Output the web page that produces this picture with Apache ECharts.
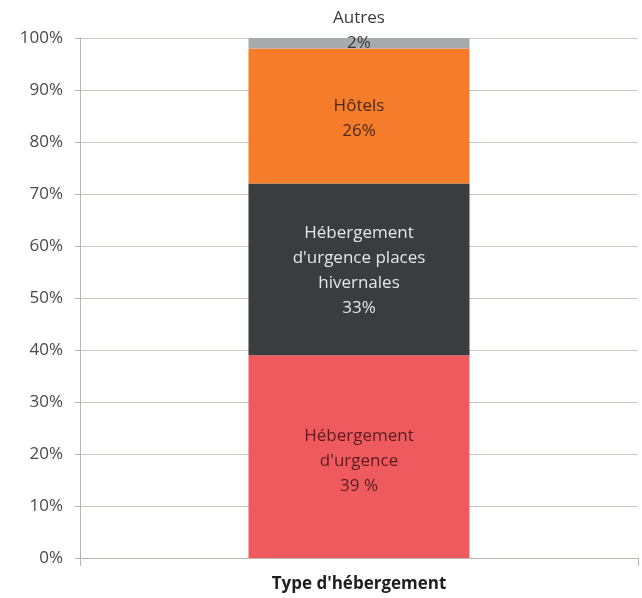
<!DOCTYPE html>
<html>
<head>
<meta charset="utf-8">
<script src="https://cdn.jsdelivr.net/npm/echarts@6/dist/echarts.min.js"></script>
<style>
  html, body { margin: 0; padding: 0; background: #ffffff; }
  #chart { width: 642px; height: 598px; }
</style>
</head>
<body>
<div id="chart"></div>
<script>
// Répartition par type d'hébergement (en %)
const categories = ["Type d'hébergement"];
const segmentNames = ["Hébergement\nd'urgence", "Hébergement\nd'urgence places\nhivernales", "Hôtels", "Autres"];
const segmentValues = [39, 33, 26, 2];
const valueTexts = ["39 %", "33%", "26%", "2%"];
const yTicks = [0, 10, 20, 30, 40, 50, 60, 70, 80, 90, 100];

const colors = ['#EF5A5F', '#3A3C3F', '#F47C2B', '#A7ABAE'];
const labelColors = ['#5A1C20', '#E6E6E6', '#4A2A12', '#3A3A3A'];
// small vertical nudges of the in-bar labels
const labelOffsets = [[0, 5], [0, 1], [0, 3], [0, -13]];
const FONT = '"Open Sans", "Liberation Sans", sans-serif';

const chart = echarts.init(document.getElementById('chart'), null, { renderer: 'canvas' });

const series = segmentValues.map((v, i) => ({
  name: segmentNames[i],
  type: 'bar',
  stack: 'total',
  barWidth: 221,
  data: [v],
  itemStyle: { color: colors[i] },
  label: {
    show: true,
    position: 'inside',
    offset: labelOffsets[i],
    formatter: () => segmentNames[i] + '\n' + valueTexts[i],
    color: labelColors[i],
    fontFamily: FONT,
    fontSize: 17,
    lineHeight: 25,
    align: 'center'
  },
  emphasis: { disabled: true }
}));

chart.setOption({
  animation: false,
  backgroundColor: '#ffffff',
  grid: { left: 80, right: 4, top: 38, bottom: 40, containLabel: false },
  xAxis: {
    type: 'category',
    data: categories,
    boundaryGap: true,
    axisLine: { show: true, lineStyle: { color: '#BDB3AE', width: 1 } },
    axisTick: { show: true, length: 8, lineStyle: { color: '#BDB3AE' } },
    axisLabel: {
      color: '#1E1E1E',
      fontFamily: FONT,
      fontSize: 17,
      fontWeight: 'bold',
      margin: 18
    }
  },
  yAxis: {
    type: 'value',
    min: yTicks[0],
    max: yTicks[yTicks.length - 1],
    interval: 10,
    axisLine: { show: true, lineStyle: { color: '#BDB3AE', width: 1 } },
    axisTick: { show: true, length: 5, lineStyle: { color: '#BDB3AE' } },
    splitLine: { show: true, lineStyle: { color: '#CCC3BE', width: 1 } },
    axisLabel: {
      color: '#4A4A4A',
      fontFamily: FONT,
      fontSize: 17,
      margin: 17,
      formatter: v => v + '%'
    }
  },
  series: series
});
</script>
</body>
</html>
